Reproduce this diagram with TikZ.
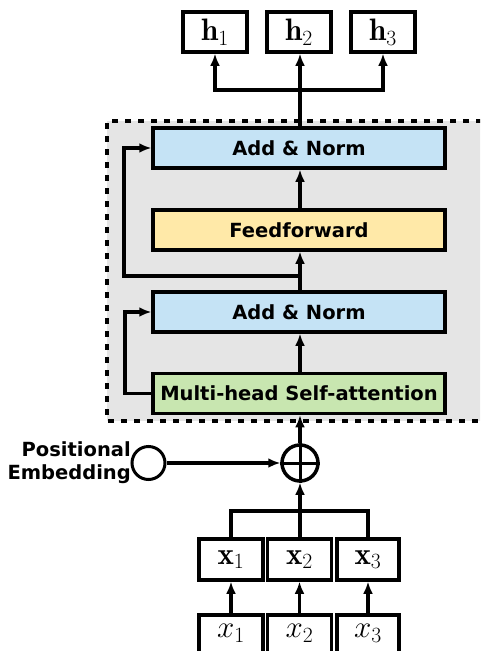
\RequirePackage{fix-cm}
\documentclass[tikz,border=0pt]{standalone}
\usepackage{fontspec}
\newfontfamily\labfont{DejaVu Sans}
\usetikzlibrary{arrows.meta,calc}
\definecolor{bgray}{RGB}{229,229,229}
\definecolor{nblue}{RGB}{197,227,245}
\definecolor{fyellow}{RGB}{255,233,168}
\definecolor{agreen}{RGB}{200,230,176}
\tikzset{
  blk/.style={draw=black,line width=3.5pt,minimum width=292pt,minimum height=40pt,inner sep=0pt,
    font=\labfont\bfseries\fontsize{19.5}{19.5}\selectfont},
  vbox/.style={draw=black,line width=3.5pt,fill=white,minimum width=64pt,minimum height=40pt,inner sep=0pt},
  conn/.style={line width=3.5pt},
  arr/.style={line width=3.5pt,-{Latex[length=12pt,width=10pt]}},
  mfont/.style={font=\fontsize{31}{31}\selectfont},
}
\begin{document}
\begin{tikzpicture}[x=1pt,y=-1pt]
\useasboundingbox (0,0) rectangle (480,651);
\clip (0,0) rectangle (480,651);
% encoder background
\fill[bgray] (107,121) rectangle (482,421);
\draw[line width=3.5pt,dash pattern=on 6pt off 7pt] (482,121) -- (107,121) -- (107,421) -- (482,421);
% blocks
\node[blk,fill=nblue] (an2) at (299,148) {Add \& Norm};
\node[blk,fill=fyellow] (ff) at (299,230) {Feedforward};
\node[blk,fill=nblue] (an1) at (299,312) {Add \& Norm};
\node[blk,fill=agreen] (mh) at (299,393.5) {Multi-head Self-attention};
% outputs
\node[vbox,mfont] (h1) at (215,32) {$\mathbf{h}_1$};
\node[vbox,mfont] (h2) at (299,32) {$\mathbf{h}_2$};
\node[vbox,mfont] (h3) at (383,32) {$\mathbf{h}_3$};
% inputs
\node[vbox,minimum height=41pt,mfont] (e1) at (231,559.5) {$\mathbf{x}_1$};
\node[vbox,minimum height=41pt,mfont] (e2) at (299.5,559.5) {$\mathbf{x}_2$};
\node[vbox,minimum height=41pt,minimum width=62pt,mfont] (e3) at (368,559.5) {$\mathbf{x}_3$};
\node[vbox,minimum height=50pt,anchor=north] (w1) at (231,613) {};
\node[vbox,minimum height=50pt,anchor=north] (w2) at (299.5,613) {};
\node[vbox,minimum height=50pt,minimum width=62pt,anchor=north] (w3) at (368,613) {};
\node[mfont] (t1) at (231,633) {$x_1$};
\node[mfont] (t2) at (299.5,633) {$x_2$};
\node[mfont] (t3) at (368,633) {$x_3$};
% sum and positional embedding
\node[circle,draw,line width=3.5pt,minimum size=36pt,inner sep=0pt,fill=white] (pl) at (300,463) {};
\draw[line width=3pt] (pl.north) -- (pl.south) (pl.west) -- (pl.east);
\node[circle,draw,line width=3pt,minimum size=33pt,inner sep=0pt,fill=white] (pe) at (148.5,463) {};
\node[anchor=east,align=right,inner sep=0pt,font=\labfont\bfseries\fontsize{19.5}{23}\selectfont] (pet) at (131,463) {Positional\\Embedding};
% connectors top
\coordinate (jt) at (300,90);
\draw[arr] (an2.north -| jt) -- (h2.south -| jt);
\draw[arr] (jt) -| (h1.south);
\draw[arr] (jt) -| (h3.south);
\draw[arr] (ff.north -| jt) -- (an2.south -| jt);
\coordinate (r2) at (300,276);
\coordinate (r2l) at (124,276);
\draw[arr] (an1.north -| jt) -- (ff.south -| jt);
\draw[arr] (r2) -- (r2l) |- (an2.west);
\draw[arr] (mh.north -| jt) -- (an1.south -| jt);
\coordinate (r1l) at (125,393.5);
\draw[arr] (mh.west) -- (r1l) |- (an1.west);
% bottom connectors
\draw[arr] (pl.north) -- (mh.south -| pl.north);
\draw[arr] (pe.east) -- (pl.west);
\coordinate (jb) at (300,511);
\draw[arr] (e2.north -| jb) -- (pl.south);
\draw[conn] (e1.north) |- (jb) -| (e3.north);
\draw[arr] (w1.north) -- (e1.south);
\draw[arr] (w2.north) -- (e2.south);
\draw[arr] (w3.north) -- (e3.south);
\end{tikzpicture}
\end{document}
